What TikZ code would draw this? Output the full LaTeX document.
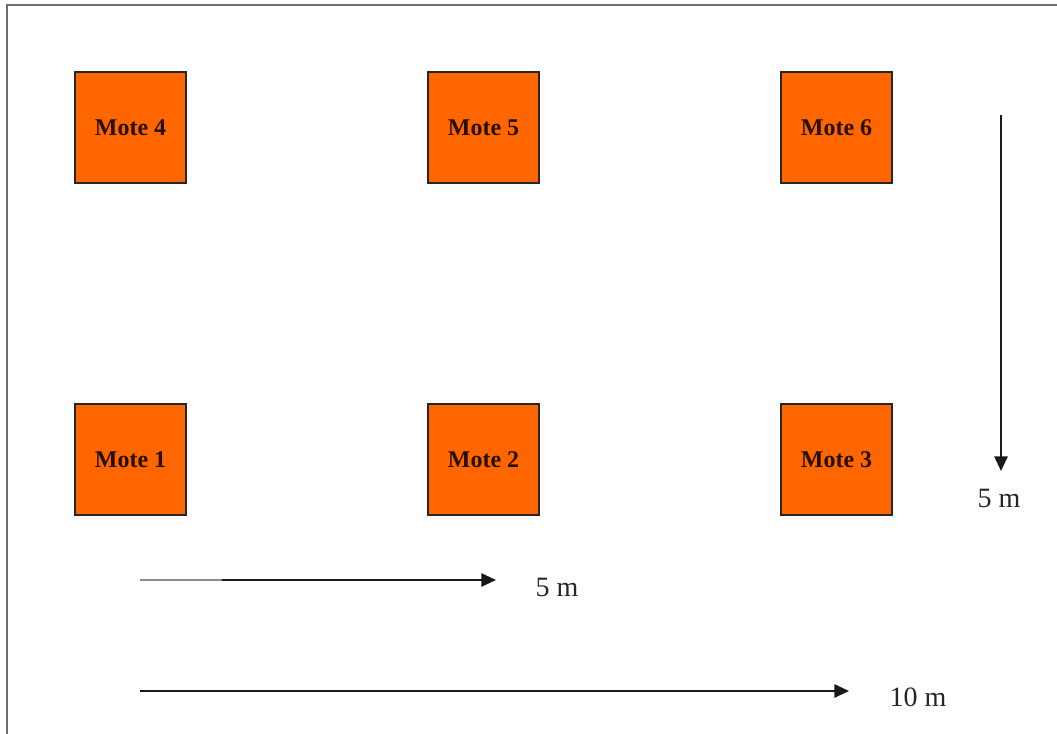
\documentclass[tikz,border=0pt]{standalone}
\usepackage{fontspec}
\setmainfont{Liberation Serif}
\usetikzlibrary{arrows.meta}
\definecolor{moteorange}{RGB}{255,102,0}
\definecolor{motetext}{RGB}{40,15,0}
\definecolor{framegray}{RGB}{110,110,110}
\tikzset{
  mote/.style={draw=black!85, line width=1pt, fill=moteorange, minimum width=83.25pt, minimum height=83.25pt, inner sep=0pt, font=\fontsize{18}{20}\selectfont\bfseries, text=motetext},
  dim/.style={line width=1.4pt, draw=black!90, -{Triangle[length=11pt,width=10pt]}},
  dimlabel/.style={font=\fontsize{21}{24}\selectfont, text=black!85, inner sep=0pt}
}
\begin{document}
\begin{tikzpicture}[x=0.75pt,y=-0.75pt]
\useasboundingbox (0,0) rectangle (1057,734);
\fill[white] (0,0) rectangle (1057,734);
\draw[framegray, line width=1.6pt] (7,734) -- (7,5) -- (1057,5);
% motes
\node[mote] (m4) at (130.5,127.5) {Mote 4};
\node[mote] (m5) at (483.5,127.5) {Mote 5};
\node[mote] (m6) at (836.5,127.5) {Mote 6};
\node[mote] (m1) at (130.5,459.5) {Mote 1};
\node[mote] (m2) at (483.5,459.5) {Mote 2};
\node[mote] (m3) at (836.5,459.5) {Mote 3};
% horizontal 5 m
\coordinate (h5a) at (140,580);
\coordinate (h5m) at (222,580);
\coordinate (h5b) at (496,580);
\draw[line width=1.4pt, black!45] (h5a) -- (h5m);
\draw[dim] (h5m) -- (h5b);
\node[dimlabel] (l5h) at (557,587) {5 m};
% 10 m
\coordinate (h10a) at (140,691);
\coordinate (h10b) at (849,691);
\draw[dim] (h10a) -- (h10b);
\node[dimlabel] (l10) at (918,697) {10 m};
% vertical 5 m
\coordinate (v5a) at (1001,115);
\coordinate (v5b) at (1001,471);
\draw[dim] (v5a) -- (v5b);
\node[dimlabel] (l5v) at (999,498) {5 m};
\end{tikzpicture}
\end{document}
